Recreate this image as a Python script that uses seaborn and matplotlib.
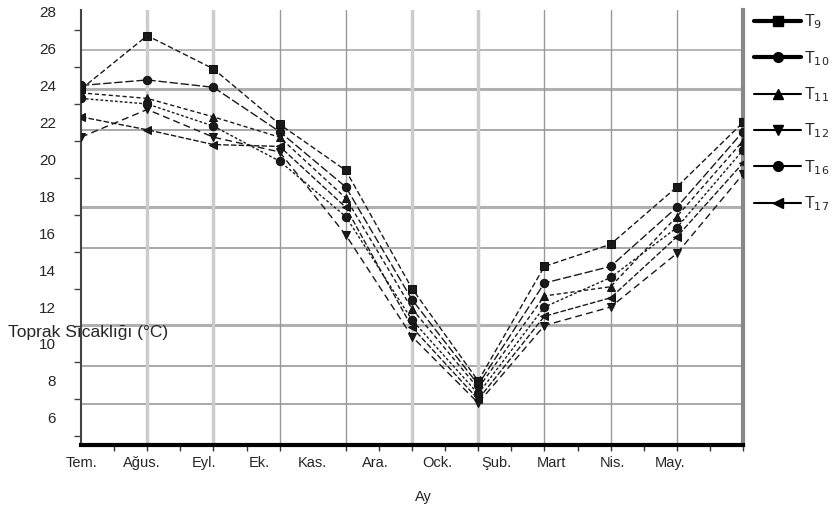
import pandas as pd
import numpy as np
import matplotlib
matplotlib.use("Agg")
import matplotlib.pyplot as plt
from matplotlib.lines import Line2D
import seaborn as sns

# veriler (grafikten okunan yaklaşık değerler)
months = ["Tem.", "Ağus.", "Eyl.", "Ek.", "Kas.", "Ara.", "Ock.", "Şub.", "Mart", "Nis.", "May."]
month_idx = list(range(11))

T9 = [23.8, 26.7, 24.9, 21.9, 19.4, 13.0, 8.0, 14.2, 15.4, 18.5, 22.0]
T10 = [24.0, 24.3, 23.9, 21.5, 18.5, 12.4, 7.8, 13.3, 14.2, 17.4, 21.5]
T11 = [23.6, 23.3, 22.3, 21.2, 17.9, 11.9, 7.6, 12.6, 13.1, 16.9, 21.0]
T12 = [21.2, 22.7, 21.2, 20.4, 15.9, 10.4, 6.8, 11.0, 12.0, 14.9, 19.2]
T16 = [23.3, 23.0, 21.8, 19.9, 16.9, 11.3, 7.3, 12.0, 13.6, 16.3, 20.5]
T17 = [22.3, 21.6, 20.8, 20.7, 17.4, 10.9, 7.0, 11.5, 12.5, 15.8, 19.8]

series_names = ["T9", "T10", "T11", "T12", "T16", "T17"]
series_labels = ["T$_{9}$", "T$_{10}$", "T$_{11}$", "T$_{12}$", "T$_{16}$", "T$_{17}$"]

y_ticks = [6, 8, 10, 12, 14, 16, 18, 20, 22, 24, 26, 28]
# ay etiketlerinin konumları (taramada ızgaraya göre kaymış)
label_pos = [0, 0.92, 1.86, 2.70, 3.50, 4.44, 5.38, 6.27, 7.11, 8.03, 8.90]

df = pd.DataFrame({
    "ay": month_idx * 6,
    "sicaklik": T9 + T10 + T11 + T12 + T16 + T17,
    "seri": [s for s in series_names for _ in month_idx],
})

sns.set_theme(style="white")
plt.rcParams["font.family"] = ["Liberation Sans", "DejaVu Sans"]

markers = {"T9": "s", "T10": "o", "T11": "^", "T12": "v", "T16": "o", "T17": "<"}
dashes = {"T9": (4, 2), "T10": (6, 2), "T11": (3, 2), "T12": (5, 3), "T16": (2, 1.5), "T17": (4, 1.5)}
palette = {s: "#1a1a1a" for s in series_names}

fig = plt.figure(figsize=(8.37, 5.15), dpi=100)
ax = fig.add_axes([0.0968, 0.136, 0.7909, 0.845])

# ızgara
for gy, lw, c in [(25.94, 1.2, "#aaaaaa"), (23.83, 2.2, "#b0b0b0"), (21.6, 1.2, "#999999"),
                  (17.43, 2.2, "#b0b0b0"), (15.21, 1.2, "#999999"), (11.04, 2.2, "#b0b0b0"),
                  (8.81, 1.2, "#999999"), (6.75, 1.2, "#999999")]:
    ax.axhline(gy, color=c, lw=lw, zorder=0)
for gx, lw, c in [(1, 2.5, "#cccccc"), (2, 2.5, "#cccccc"), (3, 1.0, "#999999"), (4, 1.0, "#999999"),
                  (5, 2.5, "#cccccc"), (6, 2.5, "#cccccc"), (7, 1.0, "#999999"), (8, 1.0, "#999999"),
                  (9, 1.0, "#999999")]:
    ax.axvline(gx, color=c, lw=lw, zorder=0)

sns.lineplot(data=df, x="ay", y="sicaklik", hue="seri", style="seri",
             markers=markers, dashes=dashes, palette=palette, markersize=6,
             linewidth=1.0, markeredgecolor="#111111", legend=False, ax=ax, zorder=3)

ax.set_xlim(0, 10)
ax.set_ylim(4.53, 28.1)
ax.set_xticks(label_pos)
ax.set_xticklabels(months, fontsize=10.5)
ax.set_xticks(np.arange(0, 10.01, 0.5), minor=True)
ax.tick_params(axis="x", which="major", length=0, pad=8)
ax.tick_params(axis="x", which="minor", length=4, width=1, color="#333333", direction="out", bottom=True)
ax.set_yticks(y_ticks)
ax.set_yticklabels([str(v) for v in y_ticks], fontsize=11)
ax.set_yticks(np.arange(5, 28.1, 1), minor=True)
ax.tick_params(axis="y", which="major", length=0, pad=18)
ax.tick_params(axis="y", which="minor", length=5, width=1, color="#444444", direction="out", left=True)
ax.set_xlabel("")
ax.set_ylabel("")

ax.spines["top"].set_visible(False)
ax.spines["left"].set_color("#444444")
ax.spines["left"].set_linewidth(1.5)
ax.spines["bottom"].set_color("#000000")
ax.spines["bottom"].set_linewidth(3)
ax.spines["right"].set_color("#888888")
ax.spines["right"].set_linewidth(3)

fig.text(8 / 837, 1 - 333 / 515, "Toprak Sıcaklığı (°C)", ha="left", va="center", fontsize=12.5)
fig.text(423 / 837, 1 - 497 / 515, "Ay", ha="center", va="center", fontsize=10.5)

handles = []
for s in series_names:
    lw = 3 if s in ("T9", "T10") else 1.5
    handles.append(Line2D([0], [0], color="black", lw=lw, marker=markers[s], markersize=7))
fig.legend(handles, series_labels, loc="upper left", bbox_to_anchor=(0.886, 1.0),
           frameon=False, fontsize=11.5, handlelength=2.9, handletextpad=0.2,
           labelspacing=1.1, borderpad=0.3)

fig.savefig("out.png", dpi=100)
